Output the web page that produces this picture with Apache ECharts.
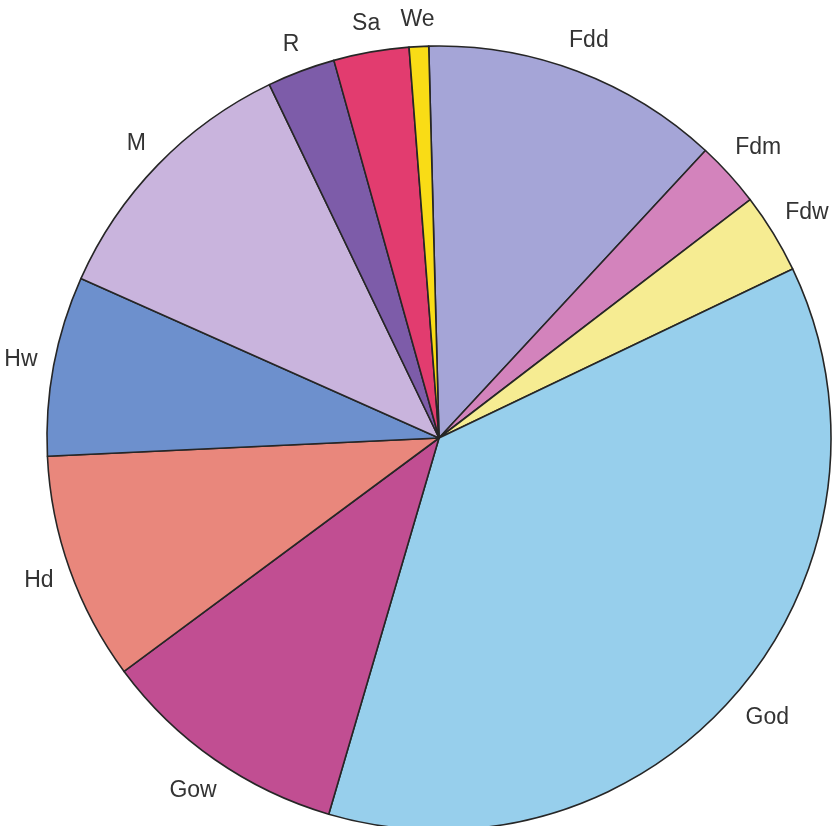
<!DOCTYPE html>
<html>
<head>
<meta charset="utf-8">
<script src="https://cdn.jsdelivr.net/npm/echarts@6/dist/echarts.min.js"></script>
<style>
html,body{margin:0;padding:0;background:#fff;}
#main{width:835px;height:826px;}
</style>
</head>
<body>
<div id="main"></div>
<script>
var categories = ['Fdd','Fdm','Fdw','God','Gow','Hd','Hw','M','R','Sa','We'];
var values = [12.3, 2.7, 3.3, 36.6, 10.3, 9.4, 7.4, 11.2, 2.8, 3.1, 0.8];
var colors = ['#a5a5d7','#d383bc','#f6ec92','#97cfec','#c14e92','#e9877c','#6d90cd','#c9b4dd','#7d5ca9','#e23c6f','#f9dc16'];

var CX = 439, CY = 438, R = 392, GAP = 15, START = 91.5;
var total = values.reduce(function(a,b){return a+b;},0);
function midAngle(i){
  var cum = 0;
  for (var k=0;k<i;k++) cum += values[k];
  var a = -(START - 90) + (cum + values[i]/2)/total*360; // degrees clockwise from top
  return a*Math.PI/180;
}

var chart = echarts.init(document.getElementById('main'));
chart.setOption({
  backgroundColor:'#fff',
  animation:false,
  series:[{
    type:'pie',
    center:[CX, CY],
    radius:[0, R],
    startAngle: START,
    clockwise:true,
    avoidLabelOverlap:false,
    data: categories.map(function(c,i){return {name:c, value:values[i], itemStyle:{color:colors[i]}};}),
    itemStyle:{borderColor:'#262626', borderWidth:1.6},
    label:{show:true, position:'outside', formatter:'{b}', color:'#333', fontFamily:'Liberation Sans, Arial, sans-serif', fontSize:23},
    labelLine:{show:false},
    emphasis:{disabled:true},
    labelLayout:function(p){
      var a = midAngle(p.dataIndex);
      var s = Math.sin(a), c = Math.cos(a);
      var w = p.labelRect.width, h = p.labelRect.height;
      var d = R + GAP + (w/2)*Math.abs(s) + (h/2)*Math.abs(c);
      return {x: CX + d*s, y: CY - d*c, align:'center', verticalAlign:'middle'};
    }
  }]
});
</script>
</body>
</html>
